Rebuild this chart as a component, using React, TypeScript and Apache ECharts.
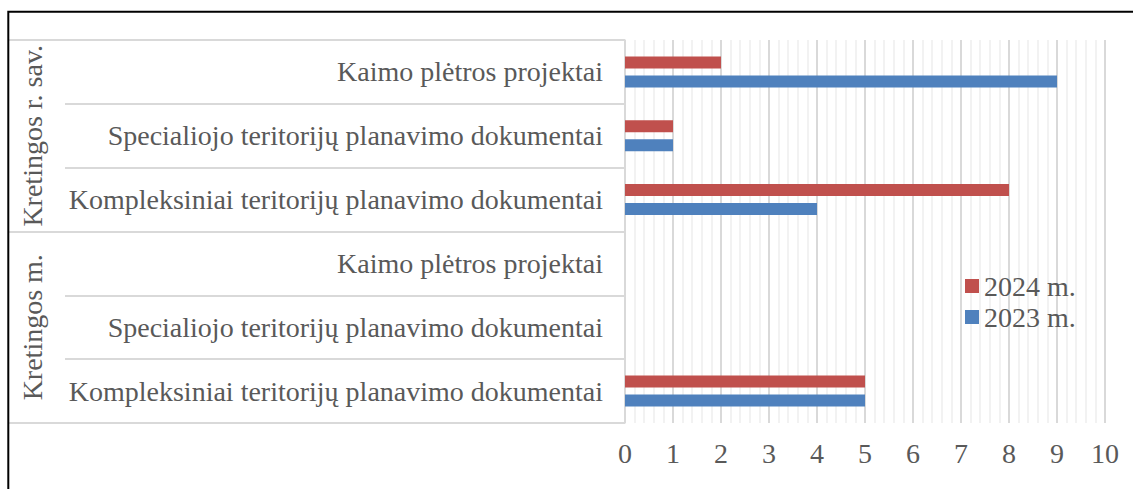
import React, { useEffect, useRef } from "react";
import * as echarts from "echarts";

const categories = [
  "Kompleksiniai teritorijų planavimo dokumentai",
  "Specialiojo teritorijų planavimo dokumentai",
  "Kaimo plėtros projektai",
  "Kompleksiniai teritorijų planavimo dokumentai",
  "Specialiojo teritorijų planavimo dokumentai",
  "Kaimo plėtros projektai",
];
const groups = ["Kretingos m.", "Kretingos r. sav."];
const seriesNames = ["2024 m.", "2023 m."];
const values2024 = [5, 0, 0, 8, 1, 2];
const values2023 = [5, 0, 0, 4, 1, 9];
const xTicks = [0, 10, 1];

const FONT = "'Liberation Serif', 'Times New Roman', serif";
const TEXT = "#595959";
const GRID = "#d9d9d9";

export default function App() {
  const ref = useRef<HTMLDivElement>(null);
  useEffect(() => {
    if (!ref.current) return;
    const chart = echarts.init(ref.current, undefined, { renderer: "svg" });
    chart.setOption({
      animation: false,
      backgroundColor: "#ffffff",
      grid: { left: 625, right: 28, top: 40, bottom: 66, containLabel: false },
      legend: {
        orient: "vertical",
        left: 960,
        top: 267,
        itemWidth: 14,
        itemHeight: 14,
        itemGap: 3,
        icon: "rect",
        data: seriesNames,
        textStyle: { fontSize: 28, color: TEXT, fontFamily: FONT },
      },
      xAxis: {
        type: "value",
        min: xTicks[0],
        max: xTicks[1],
        interval: xTicks[2],
        axisLine: { show: false },
        axisTick: { show: false },
        axisLabel: { fontSize: 28, color: TEXT, fontFamily: FONT, margin: 16 },
        splitLine: { show: true, lineStyle: { color: GRID, width: 2 } },
        minorTick: { show: false, splitNumber: 5 },
        minorSplitLine: { show: true, lineStyle: { color: "#eeeeee", width: 1.5 } },
      },
      yAxis: [
        {
          type: "category",
          data: categories,
          position: "left",
          axisLine: { show: true, lineStyle: { color: GRID, width: 1.5 } },
          axisTick: { show: true, inside: false, length: 560, interval: 0, lineStyle: { color: GRID, width: 2 } },
          axisLabel: { interval: 0, fontSize: 28, color: TEXT, fontFamily: FONT, margin: 22 },
          splitLine: { show: false },
        },
        {
          type: "category",
          data: groups,
          position: "left",
          offset: 0,
          axisLine: { show: false },
          axisTick: { show: true, inside: false, length: 617, interval: 0, lineStyle: { color: GRID, width: 2 } },
          axisLabel: {
            interval: 0,
            rotate: 90,
            fontSize: 28,
            color: TEXT,
            fontFamily: FONT,
            margin: 593,
            align: "center",
            verticalAlign: "middle",
          },
          splitLine: { show: false },
        },
      ],
      series: [
        {
          name: seriesNames[0],
          type: "bar",
          yAxisIndex: 0,
          data: values2024,
          barWidth: 12,
          barGap: "58%",
          itemStyle: { color: "#C0504D" },
        },
        {
          name: seriesNames[1],
          type: "bar",
          yAxisIndex: 0,
          data: values2023,
          barWidth: 12,
          barGap: "58%",
          itemStyle: { color: "#4F81BD" },
        },
      ],
      graphic: [
        {
          type: "rect",
          silent: true,
          z: 100,
          shape: { x: 8.3, y: 11.8, width: 1200, height: 600 },
          style: { fill: "none", stroke: "#000000", lineWidth: 2 },
        },
      ],
    });
    return () => chart.dispose();
  }, []);
  return (
    <div
      ref={ref}
      style={{ position: "absolute", left: 0, top: 0, width: 1133, height: 489 }}
    />
  );
}
